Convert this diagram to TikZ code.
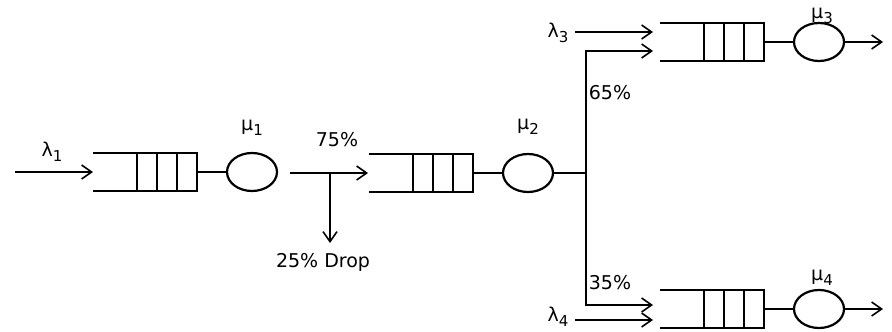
\documentclass[tikz,border=0pt]{standalone}
\usepackage{fontspec}
\setmainfont{DejaVu Sans}
\usetikzlibrary{arrows.meta,positioning,shapes.geometric}
\newcommand\idx[1]{\raisebox{-5pt}{\fontsize{15}{16}\selectfont #1}}

\begin{document}
\begin{tikzpicture}[x=1pt,y=-1pt,font=\fontsize{19}{22}\selectfont,
  flow/.style={line width=1.6pt,-{Straight Barb[length=10pt,width=14pt]}},
  wire/.style={line width=1.7pt},
  buffer/.style={line width=2.2pt},
  server/.style={ellipse,draw,line width=2.2pt,minimum width=50pt,minimum height=38pt,inner sep=0pt}]
\useasboundingbox (0,0) rectangle (892,332);
% queues and their servers
\foreach \n/\x/\y in {1/93/172,2/369/173,3/660/42,4/660/309}{
  \draw[buffer] (\x,\y-19) -- ++(104,0) -- ++(0,38) -- ++(-104,0);
  \foreach \d in {44,64,84} \draw[buffer] (\x+\d,\y-19) -- ++(0,38);
  \coordinate (q\n) at (\x,\y);
  \coordinate (t\n) at (\x+104,\y);
  \node[server] (s\n) at (\x+159,\y) {};
  \draw[wire] (t\n) -- (s\n);
}
% arrivals
\coordinate (i1) at (15,172);
\coordinate (i3) at (575,32);
\coordinate (i4) at (575,320);
\node (lam1) at (52,152) {λ\idx{1}};
\node (lam3) at (558,33) {λ\idx{3}};
\node (lam4) at (558,317) {λ\idx{4}};
\draw[flow] (i1) -- (q1);
\draw[flow,shorten >=7pt] (i3) -- (i3 -| q3);
\draw[flow,shorten >=7pt] (i4) -- (i4 -| q4);
% service rates
\node (mu1) at (252,128) {μ\idx{1}};
\node (mu2) at (528,127) {μ\idx{2}};
\node (mu3) at (822,16) {μ\idx{3}};
\node (mu4) at (822,278) {μ\idx{4}};
% drop after first server
\coordinate (o1) at (290,173);
\coordinate (d) at (330,173);
\coordinate (d2) at (330,243);
\draw[flow,shorten >=1pt] (o1) -- (q2);
\draw[flow] (d) -- (d2);
\node (keep) at (337,140) {75\%};
\node (drop) at (323,262) {25\% Drop};
% split after second server
\coordinate (b) at (586,173);
\coordinate (j3) at (586,51);
\coordinate (j4) at (586,305);
\draw[wire] (s2) -- (b);
\draw[flow,shorten >=7pt] (b) -- (j3) -- (j3 -| q3);
\draw[flow,shorten >=7pt] (b) -- (j4) -- (j4 -| q4);
\node (p3) at (610,93) {65\%};
\node (p4) at (610,283) {35\%};
% departures
\coordinate (o3) at (883,42);
\coordinate (o4) at (883,309);
\draw[flow] (s3) -- (o3);
\draw[flow] (s4) -- (o4);
\end{tikzpicture}
\end{document}
